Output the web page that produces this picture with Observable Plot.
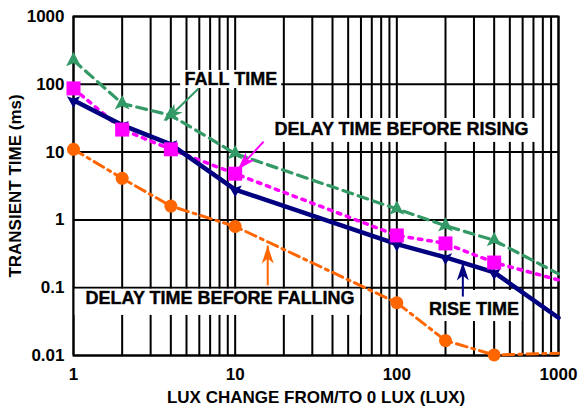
<!DOCTYPE html>
<html>
<head>
<meta charset="utf-8">
<script src="https://cdn.jsdelivr.net/npm/d3@7"></script>
<script src="https://cdn.jsdelivr.net/npm/@observablehq/plot@0.6"></script>
<style>
  html, body { margin: 0; padding: 0; background: #fff; }
  #chart { width: 584px; height: 411px; }
</style>
</head>
<body>
<div id="chart"></div>
<script>
// ---- data ----
const lux          = [1, 2, 4, 10, 100, 200, 400, 1000];
const fallTime     = [225, 52, 35, 9.5, 1.45, 0.82, 0.5, 0.16];
const riseTime     = [58, 25, 13, 2.8, 0.44, 0.28, 0.168, 0.036];
const delayRising  = [87, 21.5, 11, 4.8, 0.59, 0.45, 0.235, 0.13];
const delayFalling = [11, 4.1, 1.6, 0.8, 0.06, 0.0166, 0.0102, 0.0108];
const markerCount  = 7; // last point (1000 lux) has no marker

const xTicks = [1, 10, 100, 1000];
const yTicks = [0.01, 0.1, 1, 10, 100, 1000];

// annotation labels (data units)
const labelText = ["FALL TIME", "DELAY TIME BEFORE RISING", "DELAY TIME BEFORE FALLING", "RISE TIME"];
const labelX = [9.4, 107, 8.07, 300];
const labelY = [118, 21.5, 0.069, 0.048];
const boxX1 = [4.6, 15.5, 1, 147];
const boxX2 = [19.4, 747, 59.8, 594];
const boxY1 = [86.7, 13.9, 0.039, 0.0317];
const boxY2 = [160, 31.3, 0.095, 0.091];

// annotation arrows (data units)
const arrowX1 = [5.94, 15.0, 15.9, 256];
const arrowY1 = [86.7, 14.3, 0.108, 0.074];
const arrowX2 = [3.71, 10.4, 15.9, 256];
const arrowY2 = [29.2, 5.54, 0.419, 0.235];

// ---- styles ----
const GREEN = "#339966", NAVY = "#000080", MAGENTA = "#ff00ff", ORANGE = "#ff6600";
const arrowColors = [GREEN, MAGENTA, ORANGE, NAVY];

const symArrowUp = { draw(ctx, size) { const r = Math.sqrt(size / Math.PI);
  ctx.moveTo(0, -1.1 * r); ctx.lineTo(0.95 * r, 0.75 * r); ctx.lineTo(0, 0.35 * r); ctx.lineTo(-0.95 * r, 0.75 * r); ctx.closePath(); } };
const symArrowDown = { draw(ctx, size) { const r = Math.sqrt(size / Math.PI);
  ctx.moveTo(0, 1.1 * r); ctx.lineTo(0.95 * r, -0.6 * r); ctx.lineTo(0, -0.25 * r); ctx.lineTo(-0.95 * r, -0.6 * r); ctx.closePath(); } };
const symSquare = { draw(ctx, size) { const r = Math.sqrt(size / Math.PI); ctx.rect(-r, -r, 2 * r, 2 * r); } };
const symCircle = { draw(ctx, size) { const r = Math.sqrt(size / Math.PI); ctx.moveTo(r, 0); ctx.arc(0, 0, r, 0, 2 * Math.PI); } };

const series = [
  { name: "fall",   values: fallTime,     color: GREEN,   dash: "10,6",      width: 3.2, symbol: symArrowUp,   r: 7.8 },
  { name: "delayR", values: delayRising,  color: MAGENTA, dash: "3.5,6",     width: 3.5, symbol: null,         r: 0 },
  { name: "rise",   values: riseTime,     color: NAVY,    dash: null,        width: 4.5, symbol: symArrowDown, r: 7 },
  { name: "delayF", values: delayFalling, color: ORANGE,  dash: "11,5,3,5",  width: 3,   symbol: symCircle,    r: 6.5 }
];
const pinkSeries = { values: delayRising, color: MAGENTA, symbol: symSquare, r: 7 };

const rows = s => lux.map((x, i) => ({ x, y: s.values[i], i }));

function filledArrow(color) {
  const m = d3.create("svg:marker")
    .attr("viewBox", "-18 -6.5 19 13")
    .attr("markerWidth", 19).attr("markerHeight", 13)
    .attr("markerUnits", "userSpaceOnUse")
    .attr("orient", "auto")
    .attr("fill", color).attr("stroke", "none");
  m.append("path").attr("d", "M0,0L-18,-6L-13,0L-18,6Z");
  return m.node();
}

const xGrid = [0, 1, 2].flatMap(k => d3.range(1, 10).map(m => m * 10 ** k)).concat([1000]);
const labels = labelText.map((t, i) => ({ t, x: labelX[i], y: labelY[i], x1: boxX1[i], x2: boxX2[i], y1: boxY1[i], y2: boxY2[i] }));
const arrows = arrowX1.map((_, i) => ({ x1: arrowX1[i], y1: arrowY1[i], x2: arrowX2[i], y2: arrowY2[i], c: arrowColors[i] }));

const marks = [
  Plot.ruleX(xGrid, { stroke: "black", strokeWidth: 2 }),
  Plot.ruleY(yTicks, { stroke: "black", strokeWidth: 2 }),
  Plot.rect(labels, { x1: "x1", x2: "x2", y1: "y1", y2: "y2", fill: "white" }),
  Plot.frame({ stroke: "black", strokeWidth: 2 }),
];
for (const s of series) {
  marks.push(Plot.line(rows(s), { x: "x", y: "y", stroke: s.color, strokeWidth: s.width, strokeDasharray: s.dash ?? undefined, strokeLinejoin: "round" }));
}
for (const s of series) {
  if (!s.symbol) continue;
  marks.push(Plot.dot(rows(s).filter(d => d.i < markerCount), { x: "x", y: "y", symbol: s.symbol, r: s.r, fill: s.color, stroke: "none" }));
}
marks.push(Plot.dot(rows(pinkSeries).filter(d => d.i < markerCount), { x: "x", y: "y", symbol: pinkSeries.symbol, r: pinkSeries.r, fill: pinkSeries.color, stroke: "none" }));
marks.push(Plot.link(arrows, { x1: "x1", y1: "y1", x2: "x2", y2: "y2", stroke: d => d.c, strokeWidth: 2, markerEnd: filledArrow }));
marks.push(Plot.text(labels, { x: "x", y: "y", text: "t", fontSize: 18, fontWeight: "bold", fill: "black", stroke: "#444", strokeWidth: 0.5 }));
marks.push(Plot.axisX({ ticks: xTicks, tickSize: 0, tickPadding: 12, tickFormat: d => String(d), fontSize: 17, fontWeight: "bold",
  label: "LUX CHANGE FROM/TO 0 LUX (LUX)", labelAnchor: "center", labelArrow: "none", labelOffset: 47 }));
marks.push(Plot.axisY({ ticks: yTicks, tickSize: 0, tickPadding: 9, tickFormat: d => String(d), fontSize: 17, fontWeight: "bold",
  label: "TRANSIENT TIME (ms)", labelAnchor: "center", labelArrow: "none", labelOffset: 65 }));

const chart = Plot.plot({
  width: 584,
  height: 411,
  marginLeft: 73,
  marginRight: 26,
  marginTop: 16,
  marginBottom: 56,
  x: { type: "log", domain: [1, 1000] },
  y: { type: "log", domain: [0.01, 1000] },
  style: { fontFamily: "'Liberation Sans', Arial, sans-serif", fontWeight: "bold", fontSize: "18px", color: "black", background: "white", overflow: "visible" },
  marks
});
document.getElementById("chart").append(chart);
</script>
</body>
</html>
